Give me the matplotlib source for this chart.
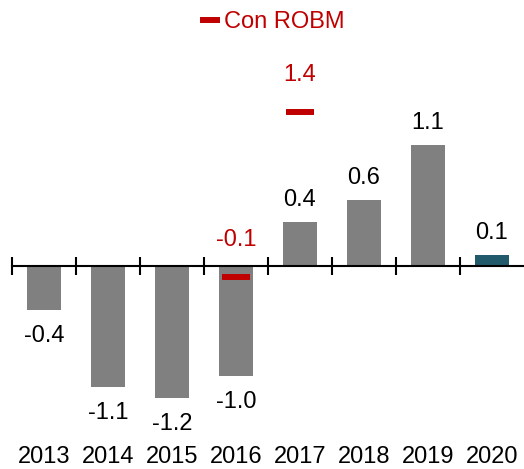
import matplotlib
matplotlib.use("Agg")
import matplotlib.pyplot as plt
from matplotlib.lines import Line2D
import numpy as np

plt.rcParams['font.family'] = ['Liberation Sans', 'DejaVu Sans']

years = ['2013', '2014', '2015', '2016', '2017', '2018', '2019', '2020']
values = [-0.4, -1.1, -1.2, -1.0, 0.4, 0.6, 1.1, 0.1]
robm_years = ['2016', '2017']
robm_values = [-0.1, 1.4]

gray = '#808080'
teal = '#215B6B'
red = '#C00000'

fig = plt.figure(figsize=(5.24, 4.69), dpi=100)
ax = fig.add_axes([12/524, 29/469, 512/524, 410/469])

x = np.arange(len(years))
colors = [gray] * (len(years) - 1) + [teal]
ax.bar(x, values, width=0.53, color=colors, zorder=2)

fs = 17
for xi, v in zip(x, values):
    off = 15.8 if v >= 0 else -18.5
    ax.annotate(f'{v:.1f}', (xi, v), xytext=(0, off), textcoords='offset points',
                ha='center', va='center', fontsize=fs, color='#000000')

rx = [years.index(y) for y in robm_years]
ax.hlines(robm_values, np.array(rx) - 0.22, np.array(rx) + 0.22, colors=red, lw=4.3, zorder=3)
for xi, v in zip(rx, robm_values):
    ax.annotate(f'{v:.1f}', (xi, v), xytext=(0, 26.6), textcoords='offset points',
                ha='center', va='center', fontsize=fs, color=red)

ax.set_xlim(-0.5, len(years) - 0.5)
ax.set_ylim(-1.582, 2.145)

for s in ['top', 'right', 'left']:
    ax.spines[s].set_visible(False)
ax.spines['bottom'].set_position(('data', 0))
ax.spines['bottom'].set_linewidth(1.5)
ax.spines['bottom'].set_zorder(4)
ax.set_yticks([])
ax.set_xticks(x)
ax.tick_params(axis='x', which='major', length=0, labelbottom=False)
ax.set_xticks(np.arange(-0.5, len(years) - 1), minor=True)
ax.tick_params(axis='x', which='minor', direction='inout', length=13, width=1.5)

for xi, y in zip(x, years):
    ax.text(xi, -0.056, y, transform=ax.get_xaxis_transform(), ha='center', va='baseline',
            fontsize=fs, color='#000000')

handle = Line2D([0], [0], color=red, lw=4.3)
leg = ax.legend([handle], ['Con ROBM'], loc='center', bbox_to_anchor=(274/524, 1 - 22/469),
                bbox_transform=fig.transFigure, frameon=False, fontsize=fs, labelcolor=red,
                handlelength=0.6, handletextpad=0.3)

fig.savefig('out.png', dpi=100)
